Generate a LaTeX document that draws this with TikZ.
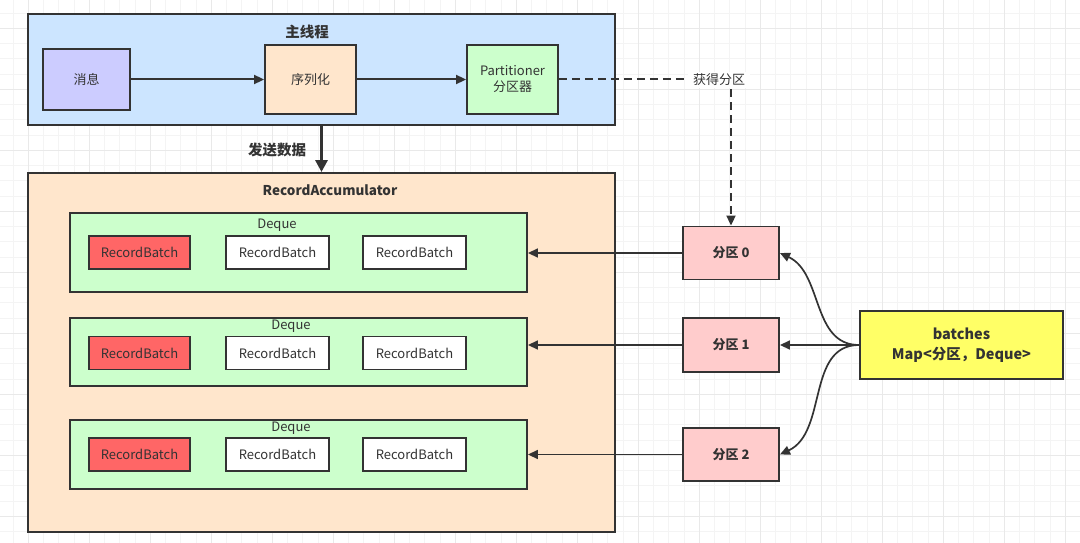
\documentclass[tikz,border=0pt]{standalone}
\usepackage{fontspec}
\setmainfont{Noto Sans CJK SC}
\usepackage{tikz}
\usetikzlibrary{
    positioning,
    arrows.meta,
}
\definecolor{linegray}{HTML}{333333}
\definecolor{threadblue}{HTML}{CCE5FF}
\definecolor{msgpurple}{HTML}{CCCCFF}
\definecolor{peach}{HTML}{FFE6CC}
\definecolor{lightgreen}{HTML}{CCFFCC}
\definecolor{batchred}{HTML}{FF6666}
\definecolor{partpink}{HTML}{FFCCCC}
\definecolor{mapyellow}{HTML}{FFFF66}
\definecolor{gridminor}{HTML}{F4F4F4}
\definecolor{gridmajor}{HTML}{E9E9E9}
\tikzset{
    % Grid styles
    minor grid/.style={draw=gridminor, line width=0.9pt},
    major grid/.style={draw=gridmajor, line width=0.9pt},
    % Box styles
    box/.style={rectangle, draw=linegray, line width=1.9pt, inner sep=0pt,
                align=center, text=linegray, font=\fontsize{13pt}{16pt}\selectfont},
    thread box/.style={box, fill=threadblue},
    msg box/.style={box, fill=msgpurple, minimum width=87pt, minimum height=61pt},
    step box/.style={box, minimum width=91pt, minimum height=69pt},
    acc box/.style={box, fill=peach},
    deque box/.style={box, fill=lightgreen, minimum width=457pt},
    batch box/.style={box, fill=white, minimum width=103pt, minimum height=33pt},
    head batch/.style={batch box, fill=batchred, minimum width=101pt},
    part box/.style={box, fill=partpink, minimum width=96pt, minimum height=53pt,
                     font=\fontsize{13pt}{16pt}\selectfont\bfseries},
    map box/.style={box, fill=mapyellow, minimum width=203pt, minimum height=68pt,
                    font=\fontsize{14.5pt}{20pt}\selectfont\bfseries},
    % Text styles
    title/.style={text=linegray, inner sep=1pt, font=\fontsize{13.5pt}{16pt}\selectfont\bfseries},
    lbl/.style={text=linegray, inner sep=1pt, font=\fontsize{13pt}{14pt}\selectfont},
    % Arrow styles
    arrow/.style={-{Triangle[length=10pt, width=9pt]}, line width=2pt, draw=linegray},
    thin arrow/.style={arrow, line width=1.7pt},
    thick arrow/.style={-{Triangle[length=12pt, width=12pt]}, line width=3.5pt, draw=linegray},
    dash arrow/.style={arrow, dash pattern=on 8pt off 5pt},
}

\begin{document}
\begin{tikzpicture}[x=1pt, y=-1pt]
    \useasboundingbox (0,0) rectangle (1080,543);

    % background grid
    \foreach \i in {0,...,70} {
        \draw[minor grid] (13.05+15.25*\i, 0) -- (13.05+15.25*\i, 543);
    }
    \foreach \i in {0,...,35} {
        \draw[minor grid] (0, 13.05+15.25*\i) -- (1080, 13.05+15.25*\i);
    }
    \foreach \i in {0,...,17} {
        \draw[major grid] (28.3+61*\i, 0) -- (28.3+61*\i, 543);
    }
    \foreach \i in {0,...,8} {
        \draw[major grid] (0, 28.3+61*\i) -- (1080, 28.3+61*\i);
    }

    % main thread
    \node[thread box, minimum width=587pt, minimum height=111pt] (main) at (321.5, 69.5) {};
    \node[title, font=\fontsize{14.5pt}{16pt}\selectfont\bfseries] (mainlbl) at (307, 32) {主线程};
    \node[msg box] (msg) at (86.5, 79.5) {消息};
    \node[step box, fill=peach] (ser) at (310.5, 79.5) {序列化};
    \node[step box, fill=lightgreen] (part) at (512.5, 79.5) {Partitioner\\分区器};
    \draw[arrow] (msg) -- (ser);
    \draw[arrow] (ser) -- (part);

    % RecordAccumulator
    \node[acc box, minimum width=587pt, minimum height=359pt] (acc) at (321.5, 352.5) {};
    \node[title] (acclbl) at (330, 190) {RecordAccumulator};
    \draw[thick arrow] (main.south) -- (acc.north);
    \node[title, font=\fontsize{14.5pt}{16pt}\selectfont\bfseries] (sendlbl) at (277, 150) {发送数据};

    % deques with batches
    \foreach \row/\y/\h/\lx/\ly/\by in {0/252.5/79/277/225/252.5,
                                         1/352/68/291/326/353,
                                         2/454.5/69/291/428/454.5} {
        \node[deque box, minimum height=\h pt] (dq\row) at (298.5, \y) {};
        \node[lbl] (dqlbl\row) at (\lx, \ly) {Deque};
        \node[head batch] (rb\row a) at (139.5, \by) {RecordBatch};
        \node[batch box] (rb\row b) at (277.5, \by) {RecordBatch};
        \node[batch box] (rb\row c) at (414.5, \by) {RecordBatch};
    }

    % partitions
    \node[part box] (p0) at (731, 253) {分区 0};
    \node[part box, minimum height=54pt] (p1) at (731, 345) {分区 1};
    \node[part box] (p2) at (731, 454.5) {分区 2};
    \foreach \i in {0,1,2} {
        \draw[thin arrow] (p\i.west) -- (p\i.west -| dq\i.east);
    }

    % partitioner lookup
    \draw[dash arrow] (part.east) -| (p0.north);
    \node[lbl, fill=white, inner xsep=5pt, inner ysep=2pt] (getlbl) at (719, 80) {获得分区};

    % batches map
    \node[map box] (map) at (961.5, 345) {batches\\Map<分区，Deque>};
    \draw[thin arrow] (map.west) to[out=180, in=-25] (p0.east);
    \draw[thin arrow] (map.west) -- (p1.east);
    \draw[thin arrow] (map.west) to[out=180, in=25] (p2.east);
\end{tikzpicture}
\end{document}
